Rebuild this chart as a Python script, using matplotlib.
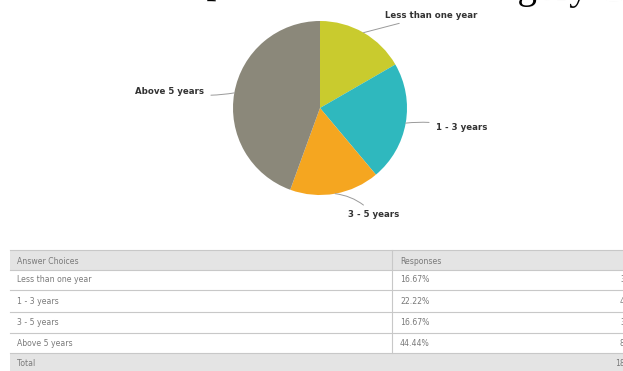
import numpy as np
import matplotlib
matplotlib.use("Agg")
import matplotlib.pyplot as plt

# survey results: experience categories
categories = ["Less than one year", "1 - 3 years", "3 - 5 years", "Above 5 years"]
counts = [3, 4, 3, 8]
percents = ["16.67%", "22.22%", "16.67%", "44.44%"]
colors = ["#c9cb2e", "#2fb8be", "#f5a620", "#8b887a"]
title = "Total Work Experience Level Category Count"

W, H = 623, 371
fig = plt.figure(figsize=(W / 100, H / 100), dpi=100)

# background axes in pixel units for the title and the response table
bg = fig.add_axes([0, 0, 1, 1])
bg.set_xlim(0, W)
bg.set_ylim(H, 0)
bg.axis("off")

# heading runs off the top of the page, slightly tilted
bg.text(-20, -11.5, title, fontsize=28, family="Liberation Serif", color="black",
        ha="left", va="baseline", rotation=-1.05, rotation_mode="anchor")

# table
left, right = 10, 640
div_x = 392
row_edges = [250, 270, 290, 312, 333, 353, 380]
grey = "#e4e4e4"
line_c = "#c8c8c8"
txt_c = "#7a7a7a"
bg.fill_between([left, right], row_edges[0], row_edges[1], color=grey, lw=0)
bg.fill_between([left, right], row_edges[5], row_edges[6], color=grey, lw=0)
for y in row_edges[:6]:
    bg.plot([left, right], [y, y], color=line_c, lw=0.8)
bg.plot([div_x, div_x], [row_edges[0], row_edges[5]], color=line_c, lw=0.8)

fs = 5.6
bg.text(17, 261, "Answer Choices", fontsize=fs, color=txt_c, va="center")
bg.text(400, 261, "Responses", fontsize=fs, color=txt_c, va="center")
mids = [(row_edges[i] + row_edges[i + 1]) / 2 for i in range(1, 5)]
for cat, pct, n, y in zip(categories, percents, counts, mids):
    bg.text(17, y, cat, fontsize=fs, color=txt_c, va="center")
    bg.text(400, y, pct, fontsize=fs, color=txt_c, va="center")
    bg.text(620, y, str(n), fontsize=fs, color=txt_c, va="center")
bg.text(17, 364, "Total", fontsize=fs, color=txt_c, va="center")
bg.text(615, 364, str(sum(counts)), fontsize=fs, color=txt_c, va="center")

# pie chart
cx, cy, r = 320, 108, 87
pie_ax = fig.add_axes([(cx - r) / W, (H - cy - r) / H, 2 * r / W, 2 * r / H])
pie_ax.pie(counts, colors=colors, startangle=90, counterclock=False,
           radius=1, wedgeprops=dict(linewidth=0))
pie_ax.set_xlim(-1, 1)
pie_ax.set_ylim(-1, 1)
pie_ax.axis("off")

# leader lines and labels, in pixel units relative to the pie centre
label_pos = {
    "Less than one year": ((385, 15), "left", 0.0),
    "1 - 3 years": ((436, 128), "left", 0.1),
    "3 - 5 years": ((348, 215), "left", 0.2),
    "Above 5 years": ((204, 91), "right", 0.1),
}
total = sum(counts)
start = 90.0
for cat, n in zip(categories, counts):
    span = 360.0 * n / total
    mid = np.deg2rad(start - span / 2)
    start -= span
    ex, ey = np.cos(mid), np.sin(mid)
    (tx, ty), ha, rad = label_pos[cat]
    px = (tx - cx) / r
    py = (cy - ty) / r
    pie_ax.annotate(cat, xy=(ex, ey), xytext=(px, py), ha=ha, va="center",
                    fontsize=6.2, fontweight="bold", color="#333333",
                    arrowprops=dict(arrowstyle="-", color="#9a9a9a", lw=0.7,
                                    shrinkA=3, shrinkB=0,
                                    connectionstyle="arc3,rad=%s" % rad),
                    annotation_clip=False)

fig.savefig("out.png", dpi=100)
